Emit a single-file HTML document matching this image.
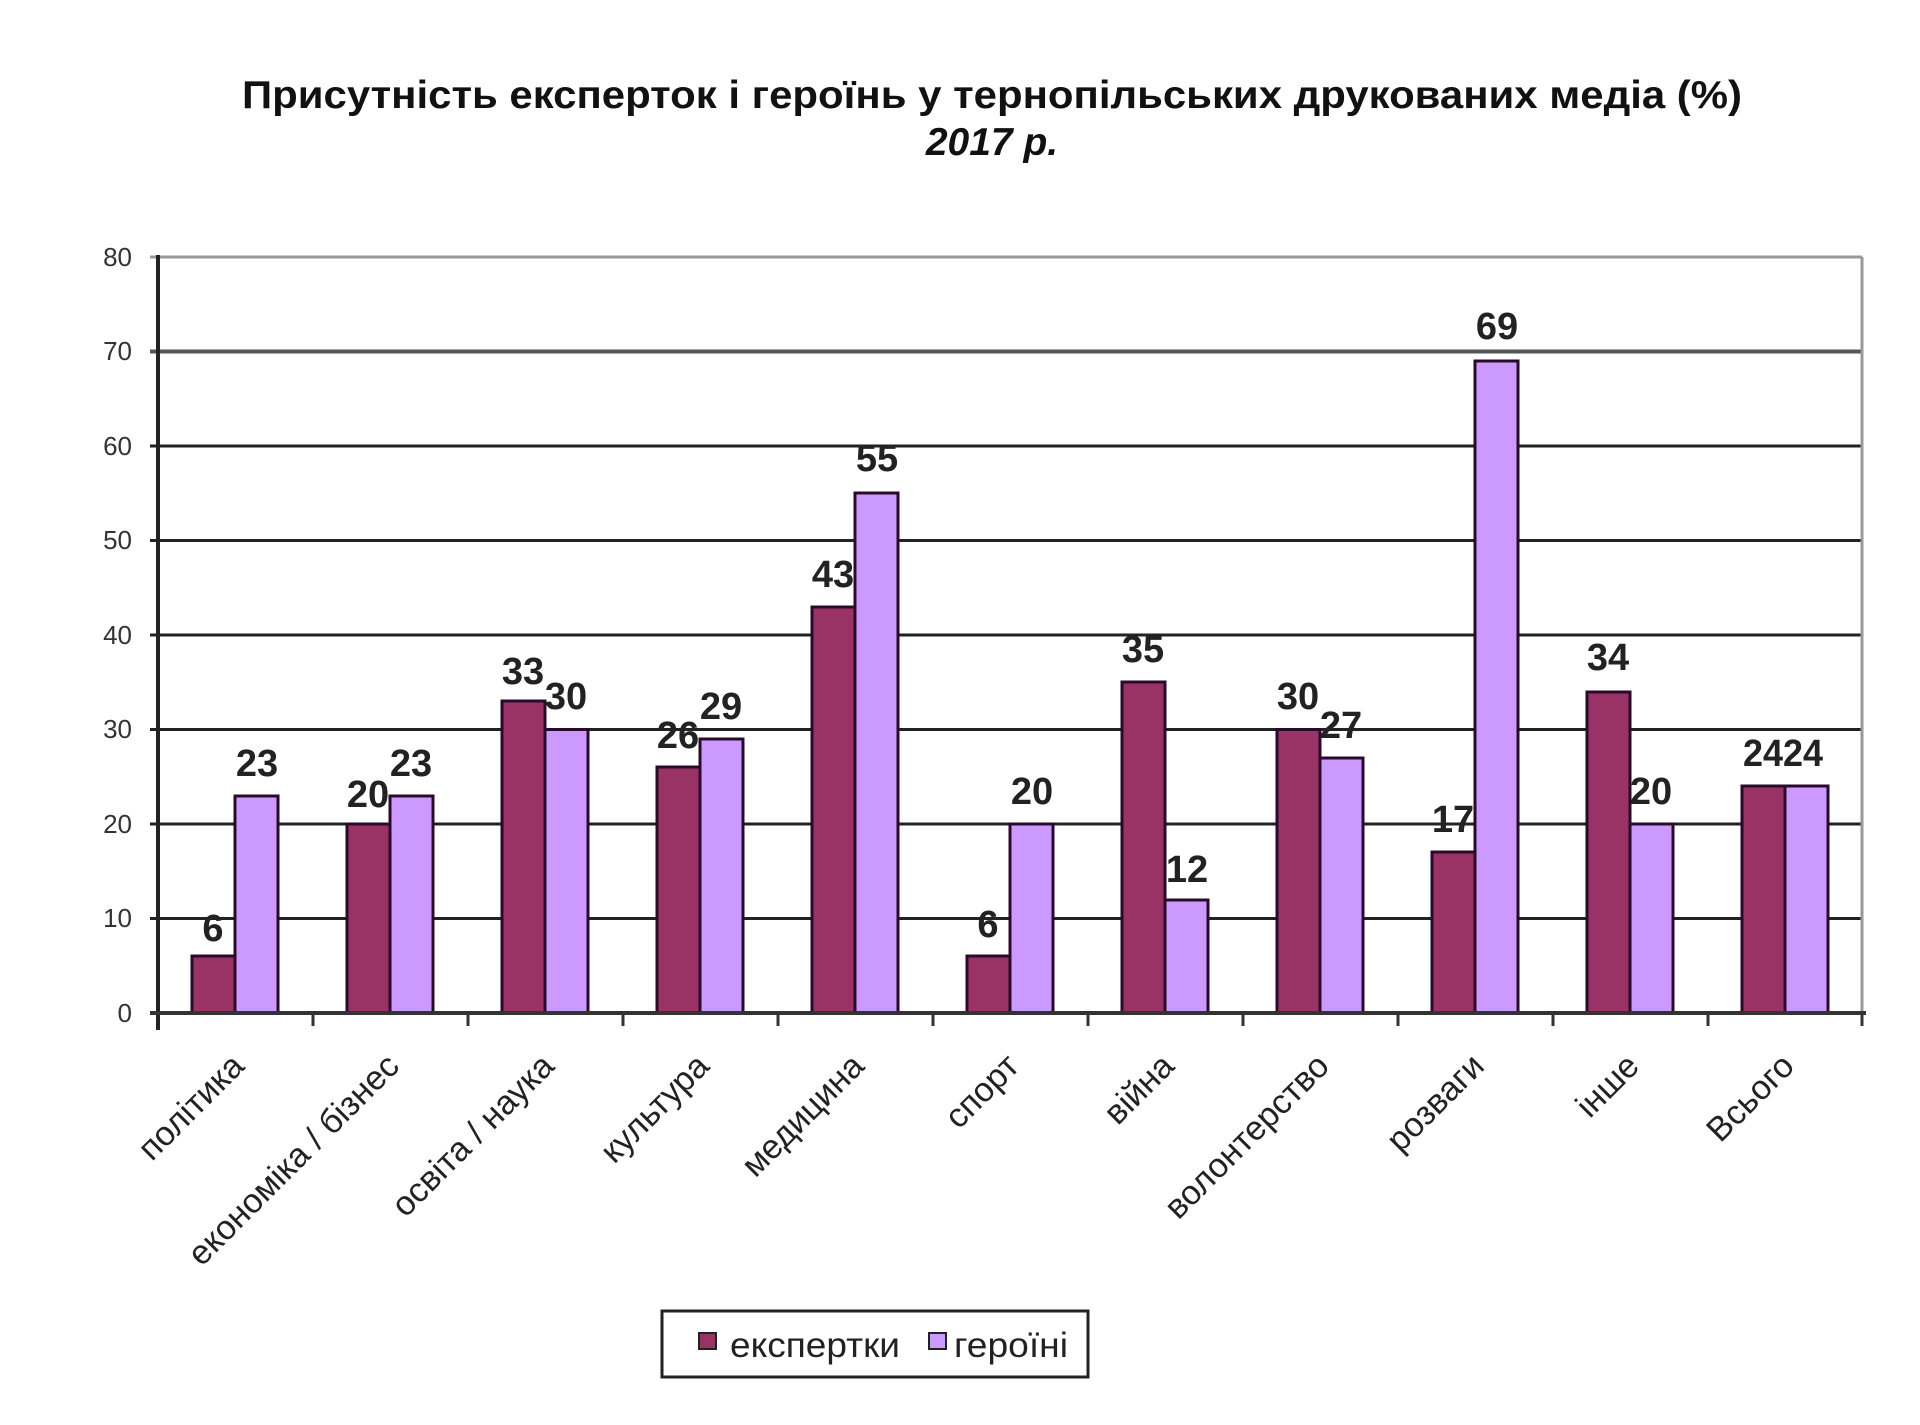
<!DOCTYPE html>
<html><head><meta charset="utf-8"><style>
body{margin:0;background:#fff}
svg{display:block}
text{font-family:"Liberation Sans","DejaVu Sans",sans-serif}
</style></head><body>
<svg width="1920" height="1425" viewBox="0 0 1920 1425" xmlns="http://www.w3.org/2000/svg">
<rect width="1920" height="1425" fill="#fff"/>
<text x="992" y="108" text-anchor="middle" font-size="39" font-weight="bold" fill="#111" textLength="1500" lengthAdjust="spacingAndGlyphs">Присутність  експерток і героїнь у тернопільських друкованих медіа (%)</text>
<text x="992" y="155" text-anchor="middle" font-size="39" font-weight="bold" font-style="italic" fill="#111">2017 р.</text>
<g id="grid">
<line x1="150" y1="257" x2="1862" y2="257" stroke="#999" stroke-width="3"/>
<line x1="150" y1="351.5" x2="1862" y2="351.5" stroke="#555" stroke-width="4"/>
<line x1="150" y1="446" x2="1862" y2="446" stroke="#222" stroke-width="3"/>
<line x1="150" y1="540.5" x2="1862" y2="540.5" stroke="#222" stroke-width="3"/>
<line x1="150" y1="635" x2="1862" y2="635" stroke="#222" stroke-width="3"/>
<line x1="150" y1="729.5" x2="1862" y2="729.5" stroke="#222" stroke-width="3"/>
<line x1="150" y1="824" x2="1862" y2="824" stroke="#222" stroke-width="3"/>
<line x1="150" y1="918.5" x2="1862" y2="918.5" stroke="#222" stroke-width="3"/>
<line x1="1862" y1="257" x2="1862" y2="1013" stroke="#999" stroke-width="3"/>
</g>
<g font-size="26" fill="#333" text-anchor="end">
<text x="132" y="266">80</text><text x="132" y="360">70</text><text x="132" y="455">60</text><text x="132" y="549">50</text><text x="132" y="644">40</text><text x="132" y="738">30</text><text x="132" y="833">20</text><text x="132" y="927">10</text><text x="132" y="1022">0</text>
</g>
<g stroke="#2a0a2a" stroke-width="3">
<rect x="192" y="956" width="43" height="57" fill="#993366"/><rect x="235" y="796" width="43" height="217" fill="#CC99FF"/>
<rect x="347" y="824" width="43" height="189" fill="#993366"/><rect x="390" y="796" width="43" height="217" fill="#CC99FF"/>
<rect x="502" y="701" width="43" height="312" fill="#993366"/><rect x="545" y="729.5" width="43" height="283.5" fill="#CC99FF"/>
<rect x="657" y="767" width="43" height="246" fill="#993366"/><rect x="700" y="739" width="43" height="274" fill="#CC99FF"/>
<rect x="812" y="607" width="43" height="406" fill="#993366"/><rect x="855" y="493" width="43" height="520" fill="#CC99FF"/>
<rect x="967" y="956" width="43" height="57" fill="#993366"/><rect x="1010" y="824" width="43" height="189" fill="#CC99FF"/>
<rect x="1122" y="682" width="43" height="331" fill="#993366"/><rect x="1165" y="900" width="43" height="113" fill="#CC99FF"/>
<rect x="1277" y="729.5" width="43" height="283.5" fill="#993366"/><rect x="1320" y="758" width="43" height="255" fill="#CC99FF"/>
<rect x="1432" y="852" width="43" height="161" fill="#993366"/><rect x="1475" y="361" width="43" height="652" fill="#CC99FF"/>
<rect x="1587" y="692" width="43" height="321" fill="#993366"/><rect x="1630" y="824" width="43" height="189" fill="#CC99FF"/>
<rect x="1742" y="786" width="43" height="227" fill="#993366"/><rect x="1785" y="786" width="43" height="227" fill="#CC99FF"/>
</g>
<line x1="158" y1="255" x2="158" y2="1030" stroke="#222" stroke-width="4"/>
<line x1="150" y1="1013" x2="1866" y2="1013" stroke="#333" stroke-width="4"/>
<g stroke="#333" stroke-width="3">
<line x1="313" y1="1013" x2="313" y2="1026"/><line x1="468" y1="1013" x2="468" y2="1026"/><line x1="623" y1="1013" x2="623" y2="1026"/><line x1="778" y1="1013" x2="778" y2="1026"/><line x1="933" y1="1013" x2="933" y2="1026"/><line x1="1088" y1="1013" x2="1088" y2="1026"/><line x1="1243" y1="1013" x2="1243" y2="1026"/><line x1="1398" y1="1013" x2="1398" y2="1026"/><line x1="1553" y1="1013" x2="1553" y2="1026"/><line x1="1708" y1="1013" x2="1708" y2="1026"/><line x1="1862" y1="1013" x2="1862" y2="1026"/>
</g>
<g font-size="38" font-weight="bold" fill="#222" text-anchor="middle">
<text x="213" y="941">6</text><text x="257" y="776">23</text>
<text x="368" y="807">20</text><text x="411" y="776">23</text>
<text x="523" y="684">33</text><text x="566" y="709">30</text>
<text x="678" y="748">26</text><text x="721" y="719">29</text>
<text x="833" y="587">43</text><text x="877" y="471">55</text>
<text x="988" y="937">6</text><text x="1032" y="804">20</text>
<text x="1143" y="662">35</text><text x="1187" y="882">12</text>
<text x="1298" y="709">30</text><text x="1341" y="738">27</text>
<text x="1453" y="832">17</text><text x="1497" y="339">69</text>
<text x="1608" y="670">34</text><text x="1651" y="804">20</text>
<text x="1763" y="766" textLength="80" lengthAdjust="spacingAndGlyphs" text-anchor="start" dx="-20">2424</text>
</g>
<g font-size="34" fill="#222" text-anchor="end">
<text transform="translate(246,1068) rotate(-45)">політика</text>
<text transform="translate(401,1068) rotate(-45)">економіка / бізнес</text>
<text transform="translate(556,1068) rotate(-45)">освіта / наука</text>
<text transform="translate(711,1068) rotate(-45)">культура</text>
<text transform="translate(866,1068) rotate(-45)">медицина</text>
<text transform="translate(1021,1068) rotate(-45)">спорт</text>
<text transform="translate(1176,1068) rotate(-45)">війна</text>
<text transform="translate(1331,1068) rotate(-45)">волонтерство</text>
<text transform="translate(1486,1068) rotate(-45)">розваги</text>
<text transform="translate(1641,1068) rotate(-45)">інше</text>
<text transform="translate(1796,1068) rotate(-45)">Всього</text>
</g>
<rect x="662" y="1311" width="426" height="66" fill="#fff" stroke="#222" stroke-width="3"/>
<rect x="699" y="1333" width="17" height="16" fill="#993366" stroke="#222" stroke-width="2"/>
<text x="730" y="1357" font-size="35" fill="#222" textLength="170" lengthAdjust="spacingAndGlyphs">експертки</text>
<rect x="929" y="1333" width="17" height="16" fill="#CC99FF" stroke="#222" stroke-width="2"/>
<text x="954" y="1357" font-size="35" fill="#222" textLength="114" lengthAdjust="spacingAndGlyphs">героїні</text>
</svg>
</body></html>
